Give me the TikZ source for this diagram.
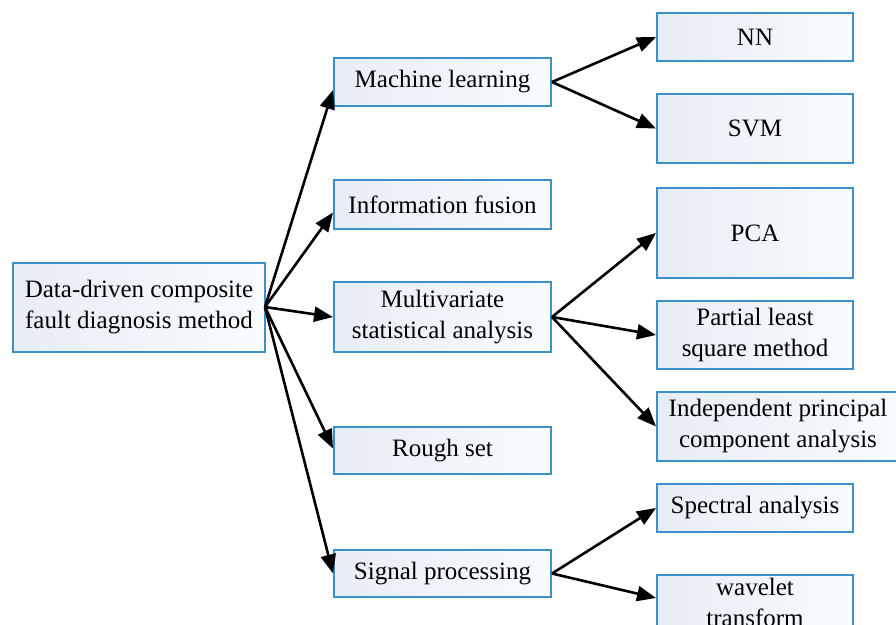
\documentclass[tikz,border=0pt]{standalone}
\usepackage{fontspec}
\setmainfont{Liberation Serif}
\usetikzlibrary{arrows.meta}
\definecolor{boxborder}{HTML}{3A92C8}
\definecolor{boxL}{HTML}{E8ECF5}
\definecolor{boxR}{HTML}{F8FCFE}
\tikzset{
  box/.style={draw=boxborder, line width=2pt, rectangle, inner sep=0pt,
    left color=boxL, right color=boxR, align=center,
    font=\fontsize{25}{31}\selectfont, text=black},
  arr/.style={line width=2.6pt, -{Triangle[length=19pt,width=15pt]}}
}
\begin{document}
\begin{tikzpicture}[x=1pt,y=-1pt]
\useasboundingbox (0,0) rectangle (896,624);
\clip (0,0) rectangle (896,624);
\fill[white] (0,0) rectangle (896,624);
% root
\node[box, minimum width=252pt, minimum height=89pt] (root) at (139,307) {Data-driven composite\\fault diagnosis method};
% level 1
\node[box, minimum width=217pt, minimum height=48pt] (ml) at (442.5,82) {Machine learning};
\node[box, minimum width=217pt, minimum height=49pt] (if) at (442.5,204.5) {Information fusion};
\node[box, minimum width=217pt, minimum height=70pt] (msa) at (442.5,317) {Multivariate\\statistical analysis};
\node[box, minimum width=217pt, minimum height=47pt] (rs) at (442.5,450.5) {Rough set};
\node[box, minimum width=217pt, minimum height=47pt] (sp) at (442.5,573.5) {Signal processing};
% level 2
\node[box, minimum width=196pt, minimum height=48pt] (nn) at (755,37) {NN};
\node[box, minimum width=196pt, minimum height=69pt] (svm) at (755,128.5) {SVM};
\node[box, minimum width=196pt, minimum height=90pt] (pca) at (755,233) {PCA};
\node[box, minimum width=196pt, minimum height=68pt] (pls) at (755,335) {Partial least\\square method};
\node[box, minimum width=242pt, minimum height=69pt] (ipca) at (778,426.5) {Independent principal\\component analysis};
\node[box, minimum width=196pt, minimum height=48pt] (spec) at (755,508) {Spectral analysis};
\node[box, minimum width=196pt, minimum height=54pt] (wav) at (755,602) {wavelet\\transform};
% connectors
\coordinate (hub) at ([xshift=-1pt]root.east);
\draw[arr] (hub) -- ([yshift=-8pt]ml.west);
\draw[arr] (hub) -- ([yshift=-8pt]if.west);
\draw[arr] (hub) -- (msa.west);
\draw[arr] (hub) -- ([yshift=2pt]rs.west);
\draw[arr] (hub) -- (sp.west);
\draw[arr] (ml.east) -- (nn.west);
\draw[arr] (ml.east) -- (svm.west);
\draw[arr] (msa.east) -- (pca.west);
\draw[arr] (msa.east) -- (pls.west);
\draw[arr] (msa.east) -- (ipca.west);
\draw[arr] (sp.east) -- (spec.west);
\draw[arr] (sp.east) -- ([yshift=4pt]wav.west);
\end{tikzpicture}
\end{document}
